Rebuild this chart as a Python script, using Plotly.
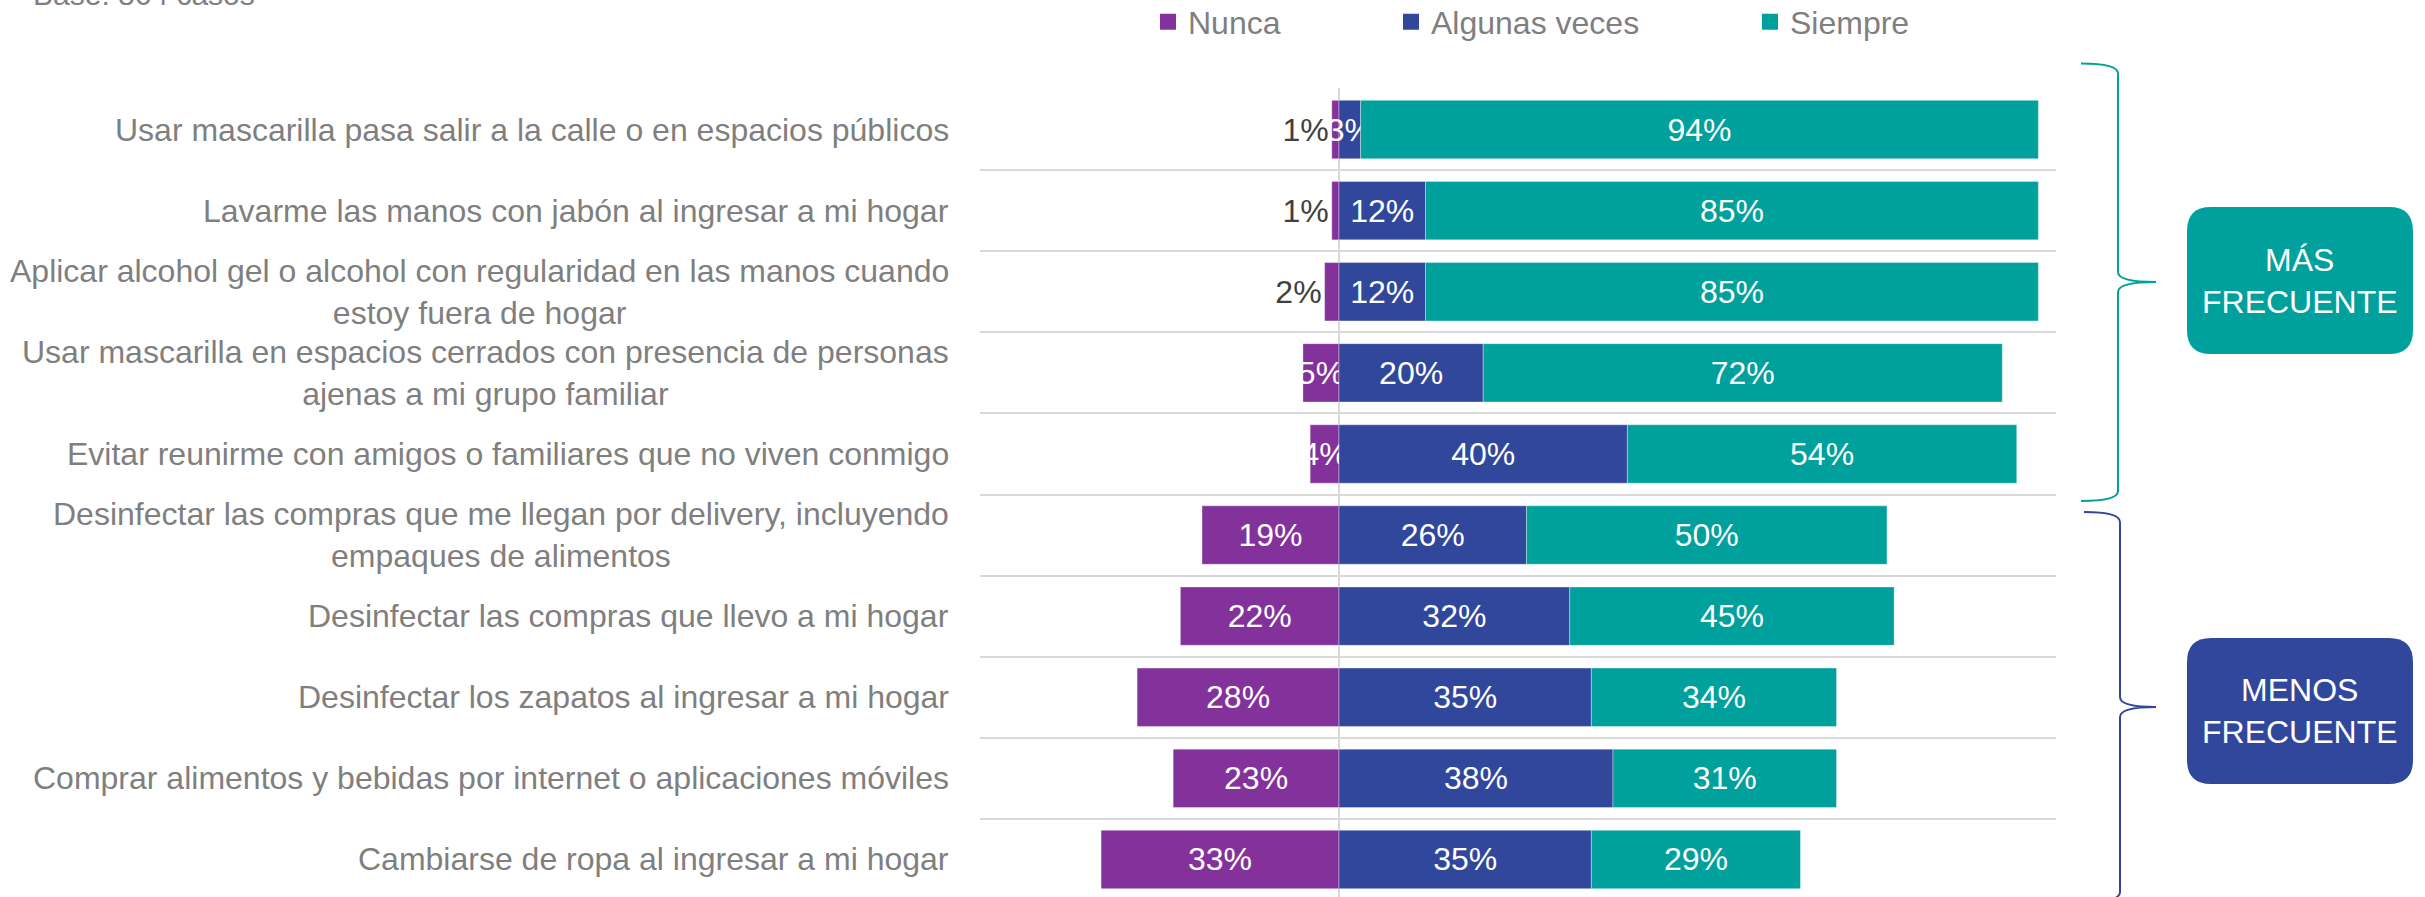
import plotly.graph_objects as go

# ---------------- data ----------------
categories = [
    "Usar mascarilla pasa salir a la calle o en espacios públicos",
    "Lavarme las manos con jabón al ingresar a mi hogar",
    "Aplicar alcohol gel o alcohol con regularidad en las manos cuando<br>estoy fuera de hogar",
    "Usar mascarilla en espacios cerrados con presencia de personas<br>ajenas a mi grupo familiar",
    "Evitar reunirme con amigos o familiares que no viven conmigo",
    "Desinfectar las compras que me llegan por delivery, incluyendo<br>empaques de alimentos",
    "Desinfectar las compras que llevo a mi hogar",
    "Desinfectar los zapatos al ingresar a mi hogar",
    "Comprar alimentos y bebidas por internet o aplicaciones móviles",
    "Cambiarse de ropa al ingresar a mi hogar",
]
nunca = [1, 1, 2, 5, 4, 19, 22, 28, 23, 33]
algunas_veces = [3, 12, 12, 20, 40, 26, 32, 35, 38, 35]
siempre = [94, 85, 85, 72, 54, 50, 45, 34, 31, 29]
series_names = ["Nunca", "Algunas veces", "Siempre"]
group_labels = ["MÁS<br>FRECUENTE", "MENOS<br>FRECUENTE"]
base_text = "Base: 864 casos"

# ---------------- style ----------------
PURPLE = "#84329B"
BLUE = "#31479C"
TEAL = "#00A09D"
GRAY_TXT = "#7F7F7F"
DARK_TXT = "#404040"
GRID = "#D9D9D9"
FONT = "Liberation Sans, Arial, sans-serif"
FS = 32

W, H = 2425, 897
L, R, T, B = 980, 2056, 88, 897


def px(x):
    return (x - L) / (R - L)


def py(y):
    return (B - y) / (B - T)


ypos = list(range(len(categories)))

fig = go.Figure()

bar_common = dict(orientation="h", width=0.72, textangle=0, constraintext="none",
                  insidetextanchor="middle", cliponaxis=False, showlegend=False,
                  hoverinfo="skip")

fig.add_trace(go.Bar(
    y=ypos, x=[-v for v in nunca], base=0,
    text=[f"{v}%" for v in nunca],
    textposition=["outside" if v < 3 else "inside" for v in nunca],
    insidetextfont=dict(color="white", size=FS, family=FONT),
    outsidetextfont=dict(color=DARK_TXT, size=FS, family=FONT),
    marker=dict(color=PURPLE, line=dict(color="rgba(255,255,255,0.35)", width=1)),
    name=series_names[0], **bar_common))

fig.add_trace(go.Bar(
    y=ypos, x=algunas_veces, base=0,
    text=[f"{v}%" for v in algunas_veces], textposition="inside",
    insidetextfont=dict(color="white", size=FS, family=FONT),
    marker=dict(color=BLUE, line=dict(color="rgba(255,255,255,0.35)", width=1)),
    name=series_names[1], **bar_common))

fig.add_trace(go.Bar(
    y=ypos, x=siempre, base=algunas_veces,
    text=[f"{v}%" for v in siempre], textposition="inside",
    insidetextfont=dict(color="white", size=FS, family=FONT),
    marker=dict(color=TEAL, line=dict(color="rgba(255,255,255,0.35)", width=1)),
    name=series_names[2], **bar_common))

# legend-only entries (square markers), each in its own legend for positioning
legend_colors = [PURPLE, BLUE, TEAL]
legend_keys = ["legend", "legend2", "legend3"]
for name, col, lk in zip(series_names, legend_colors, legend_keys):
    fig.add_trace(go.Scatter(
        x=[None], y=[None], mode="markers", name=name,
        marker=dict(symbol="square", size=20, color=col),
        legend=lk, showlegend=True, hoverinfo="skip"))

leg_font = dict(family=FONT, size=FS, color=GRAY_TXT)
leg_y = py(22)
legend_x_px = [1148, 1391, 1750]
legend_cfg = {}
for lk, lx in zip(legend_keys, legend_x_px):
    legend_cfg[lk] = dict(x=px(lx), y=leg_y, xanchor="left", yanchor="middle",
                          orientation="h", font=leg_font, bgcolor="rgba(0,0,0,0)",
                          borderwidth=0, itemsizing="trace")

annotations = []
# category labels
for i, c in enumerate(categories):
    annotations.append(dict(
        x=px(951), xref="paper", y=i, yref="y", text=c, showarrow=False,
        xanchor="right", yanchor="middle", align="center",
        font=dict(family=FONT, size=FS, color=GRAY_TXT)))

# base text (cut off at top edge, as in the original)
annotations.append(dict(
    x=px(31), xref="paper", y=py(-5), yref="paper", text=base_text, showarrow=False,
    xanchor="left", yanchor="middle", font=dict(family=FONT, size=30, color=GRAY_TXT)))


def path_from(cmds):
    out = []
    for c in cmds:
        op = c[0]
        pts = c[1:]
        coords = []
        for k in range(0, len(pts), 2):
            coords.append(f"{px(pts[k]):.5f},{py(pts[k + 1]):.5f}")
        out.append(op + " " + " ".join(coords))
    return " ".join(out)


def brace(x_end, x_mid, x_tip, y_top, y_tip, y_bot):
    c = 10
    return path_from([
        ("M", x_end, y_top),
        ("Q", x_mid, y_top, x_mid, y_top + c),
        ("L", x_mid, y_tip - c),
        ("Q", x_mid, y_tip, x_tip, y_tip),
        ("Q", x_mid, y_tip, x_mid, y_tip + c),
        ("L", x_mid, y_bot - c),
        ("Q", x_mid, y_bot, x_end, y_bot),
    ])


def rrect(x0, y0, x1, y1, r):
    return path_from([
        ("M", x0 + r, y0), ("L", x1 - r, y0), ("Q", x1, y0, x1, y0 + r),
        ("L", x1, y1 - r), ("Q", x1, y1, x1 - r, y1), ("L", x0 + r, y1),
        ("Q", x0, y1, x0, y1 - r), ("L", x0, y0 + r), ("Q", x0, y0, x0 + r, y0),
    ]) + " Z"


shapes = [
    dict(type="path", xref="paper", yref="paper",
         path=brace(2081, 2118, 2156, 63.5, 282, 501),
         line=dict(color=TEAL, width=2)),
    dict(type="path", xref="paper", yref="paper",
         path=brace(2084, 2120, 2156, 512, 707, 902),
         line=dict(color=BLUE, width=2)),
    dict(type="path", xref="paper", yref="paper",
         path=rrect(2187, 207, 2413, 354, 24), fillcolor=TEAL, line=dict(width=0)),
    dict(type="path", xref="paper", yref="paper",
         path=rrect(2187, 638, 2413, 784, 24), fillcolor=BLUE, line=dict(width=0)),
]

for lab, yc in zip(group_labels, [281, 711]):
    annotations.append(dict(
        x=px(2300), xref="paper", y=py(yc), yref="paper", text=lab, showarrow=False,
        xanchor="center", yanchor="middle", align="center",
        font=dict(family=FONT, size=FS, color="white")))

zero_px, per = 1339, 7.21
x_range = [(L - zero_px) / per, (R - zero_px) / per]
unit = 81.1
y_range = [-0.5 + (B - 89) / unit, -0.5 - (89 - T) / unit]

fig.update_layout(
    width=W, height=H, autosize=False,
    margin=dict(l=L, r=W - R, t=T, b=H - B, pad=0, autoexpand=False),
    paper_bgcolor="white", plot_bgcolor="white",
    barmode="overlay",
    font=dict(family=FONT, size=FS, color=GRAY_TXT),
    xaxis=dict(range=x_range, showgrid=False, showticklabels=False, ticks="",
               zeroline=True, zerolinecolor=GRID, zerolinewidth=2, showline=False,
               fixedrange=True),
    yaxis=dict(range=y_range, tickmode="array",
               tickvals=[i + 0.5 for i in range(-1, len(categories))],
               showticklabels=False, ticks="", showgrid=True, gridcolor=GRID,
               gridwidth=2, zeroline=False, showline=False, fixedrange=True),
    annotations=annotations,
    shapes=shapes,
    **legend_cfg,
)

fig.write_html("out.html", config={"displayModeBar": False})

# remove the browser's default body margin so the figure sits at the page origin
with open("out.html", "r", encoding="utf-8") as f:
    html = f.read()
html = html.replace("<body>", '<body style="margin:0;padding:0;overflow:hidden">', 1)
with open("out.html", "w", encoding="utf-8") as f:
    f.write(html)
